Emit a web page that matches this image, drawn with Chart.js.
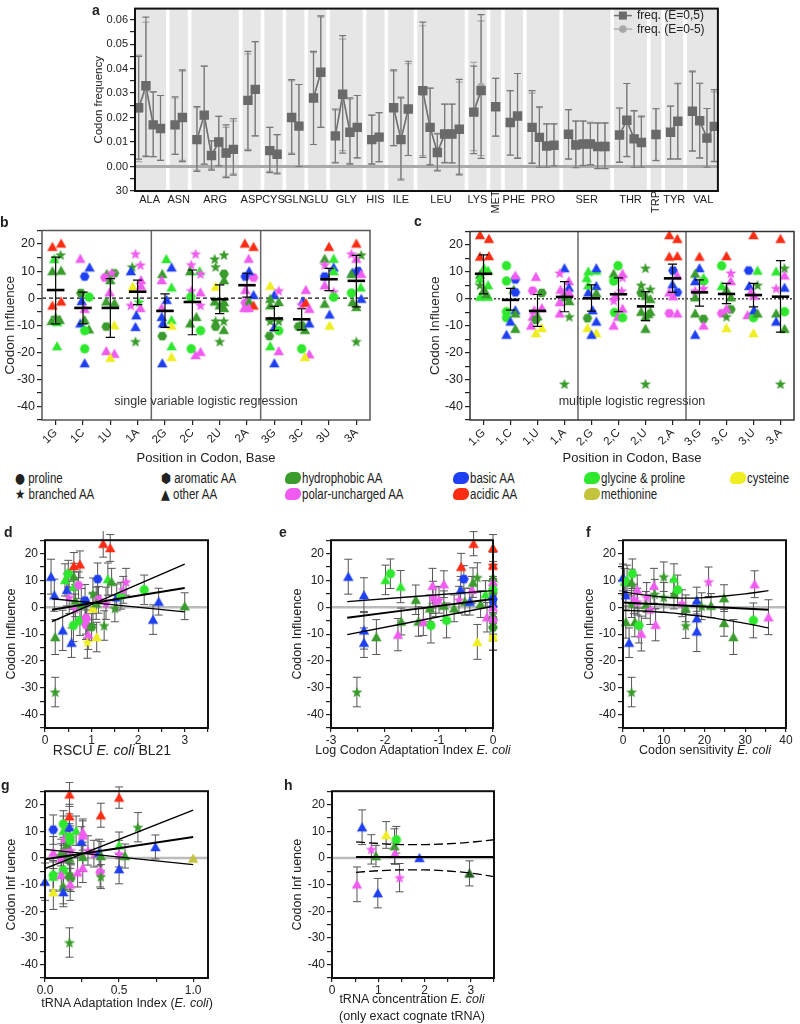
<!DOCTYPE html>
<html>
<head>
<meta charset="utf-8">
<title>Codon influence</title>
<script src="https://cdn.jsdelivr.net/npm/chart.js@4.4.1/dist/chart.umd.min.js"></script>
<style>
  body { margin: 0; background: #fff; }
  #page { position: relative; width: 800px; height: 1024px; overflow: hidden; font-family: 'Liberation Sans', Arial, sans-serif; color: #222; }
  canvas { position: absolute; }
  .t { position: absolute; white-space: nowrap; }
  .panel { font-weight: bold; font-size: 14px; }
  .xt { transform: translate(-50%, -50%); font-size: 12.5px; }
  .leg { font-family: 'Liberation Sans Narrow', 'Liberation Sans', sans-serif; font-size: 14px; transform-origin: left center; transform: translateY(-50%) scaleX(0.82); }
  .sym { font-family: 'DejaVu Sans', sans-serif; font-size: 14px; }
  .blob { position: absolute; width: 16px; height: 12px; border-radius: 7px 5px 6px 4px; transform: translateY(-50%); }
</style>
</head>
<body>
<div id="page">
  <canvas id="cA"></canvas>
  <canvas id="cB"></canvas>
  <canvas id="cC"></canvas>
  <canvas id="cD"></canvas>
  <canvas id="cE"></canvas>
  <canvas id="cF"></canvas>
  <canvas id="cG"></canvas>
  <canvas id="cH"></canvas>

  <div class="t panel" style="left:92px;top:2px">a</div>
  <div class="t panel" style="left:0px;top:214px">b</div>
  <div class="t panel" style="left:414px;top:213px">c</div>
  <div class="t panel" style="left:4px;top:524px">d</div>
  <div class="t panel" style="left:279px;top:524px">e</div>
  <div class="t panel" style="left:586px;top:524px">f</div>
  <div class="t panel" style="left:1px;top:777px">g</div>
  <div class="t panel" style="left:284px;top:777px">h</div>

  <!-- legend row -->
  <div class="t leg" style="left:15px;top:478px"><span class="sym">●</span> proline</div>
  <div class="t leg" style="left:15px;top:494px"><span class="sym">★</span> branched AA</div>
  <div class="t leg" style="left:161px;top:478px"><span class="sym">⬢</span> aromatic AA</div>
  <div class="t leg" style="left:161px;top:494px"><span class="sym">▲</span> other AA</div>
  <div class="blob" style="left:285px;top:478px;background:#3a9c2c"></div>
  <div class="t leg" style="left:302px;top:478px">hydrophobic AA</div>
  <div class="blob" style="left:285px;top:494px;background:#f05cf0"></div>
  <div class="t leg" style="left:302px;top:494px">polar-uncharged AA</div>
  <div class="blob" style="left:453px;top:478px;background:#1e40f2"></div>
  <div class="t leg" style="left:470px;top:478px">basic AA</div>
  <div class="blob" style="left:453px;top:494px;background:#fa2c14"></div>
  <div class="t leg" style="left:470px;top:494px">acidic AA</div>
  <div class="blob" style="left:584px;top:478px;background:#2ee82e"></div>
  <div class="t leg" style="left:601px;top:478px">glycine &amp; proline</div>
  <div class="blob" style="left:584px;top:494px;background:#c4c43c"></div>
  <div class="t leg" style="left:601px;top:494px">methionine</div>
  <div class="blob" style="left:730px;top:478px;background:#eeee22"></div>
  <div class="t leg" style="left:747px;top:478px">cysteine</div>

  <!-- x titles with italics -->
  <div class="t xt" style="left:112px;top:750px;font-size:14px">RSCU <i>E. coli</i> BL21</div>
  <div class="t xt" style="left:413px;top:750px">Log Codon Adaptation Index <i>E. coli</i></div>
  <div class="t xt" style="left:705px;top:750px">Codon sensitivity <i>E. coli</i></div>
  <div class="t xt" style="left:127px;top:1003px">tRNA Adaptation Index (<i>E. coli</i>)</div>
  <div class="t xt" style="left:412px;top:999px">tRNA concentration <i>E. coli</i></div>
  <div class="t xt" style="left:412px;top:1016px">(only exact cognate tRNA)</div>
</div>

<script>
// ---------- panel a: codon frequencies ----------
const aaNames = ['ALA','ASN','ARG','ASP','CYS','GLN','GLU','GLY','HIS','ILE','LEU','LYS','MET','PHE','PRO','SER','THR','TRP','TYR','VAL'];
const aaCounts = [4,2,6,2,2,2,2,4,2,3,6,2,1,2,4,6,4,1,2,4];

const aFreq1 = [0.024,0.033,0.017,0.0155, 0.017,0.020, 0.011,0.021,0.0045,0.010,0.0055,0.007, 0.027,0.0315, 0.0065,0.005,
  0.020,0.0165, 0.028,0.0385, 0.0125,0.0295,0.014,0.016, 0.011,0.012, 0.024,0.011,0.0235, 0.031,0.016,0.0057,0.0133,0.0133,0.0152,
  0.0222,0.031, 0.0244, 0.018,0.0206, 0.016,0.0119,0.0084,0.0087, 0.0132,0.0088,0.0092,0.0092,0.0082,0.0082,
  0.0129,0.0189,0.0113,0.0098, 0.0131, 0.014,0.0185, 0.0226,0.0187,0.0116,0.0164];
const aHi1 = [0.045,0.061,0.0305,0.029, 0.0285,0.0395, 0.0245,0.041,0.0105,0.0205,0.017,0.0195, 0.047,0.051, 0.016,0.013,
  0.0355,0.0335, 0.047,0.0615, 0.0235,0.0535,0.028,0.029, 0.021,0.022, 0.0395,0.028,0.043, 0.059,0.032,0.0133,0.0255,0.0255,0.0356,
  0.041,0.062, 0.036, 0.031,0.038, 0.031,0.0244,0.0174,0.0174, 0.0232,0.0185,0.0185,0.0177,0.0177,0.0177,
  0.0239,0.0339,0.0228,0.0206, 0.0236, 0.0247,0.034, 0.039,0.034,0.0237,0.0314];
const aLo1 = [0.003,0.004,0.004,0.0025, 0.005,0.002, -0.002,0.001,-0.0015,0.0003,-0.0045,-0.0035, 0.0065,0.0125, -0.0025,-0.003,
  0.005,0.0, 0.009,0.016, 0.0015,0.0055,0.001,0.0035, 0.001,0.002, 0.0085,-0.0055,0.0045, 0.0037,0.0007,-0.0018,0.0015,0.0015,-0.0034,
  0.0053,0.0033, 0.0124, 0.0046,0.0033, 0.0013,-0.0003,-0.0003,0.0003, 0.003,-0.0005,0.0004,0.0007,-0.0009,-0.0009,
  0.0017,0.004,-0.0003,-0.0003, 0.0024, 0.003,0.003, 0.0063,0.0034,-0.0003,0.002];

const aFreq2 = [0.0235,0.032,0.0172,0.0155, 0.0168,0.0202, 0.0112,0.0208,0.0046,0.0102,0.0056,0.0072, 0.0268,0.0316, 0.0066,0.0051,
  0.0201,0.0167, 0.0279,0.0384, 0.0126,0.0288,0.0142,0.0162, 0.0109,0.0121, 0.0238,0.0112,0.0233, 0.0303,0.0161,0.0058,0.0134,0.0134,0.0150,
  0.0225,0.0325, 0.0244, 0.0181,0.0205, 0.0161,0.0120,0.0085,0.0088, 0.0133,0.0089,0.0093,0.0093,0.0083,0.0083,
  0.0130,0.0188,0.0114,0.0099, 0.0131, 0.0141,0.0184, 0.0224,0.0186,0.0117,0.0165];
const aHi2 = [0.0455,0.059,0.0305,0.029, 0.028,0.039, 0.024,0.041,0.0105,0.0205,0.016,0.0185, 0.046,0.051, 0.016,0.013,
  0.035,0.0335, 0.0465,0.061, 0.023,0.052,0.0275,0.029, 0.021,0.022, 0.039,0.0285,0.042, 0.0575,0.032,0.0135,0.0255,0.0255,0.0345,
  0.0425,0.0595, 0.036, 0.031,0.038, 0.030,0.024,0.0174,0.0174, 0.0232,0.0187,0.0187,0.0181,0.0179,0.0179,
  0.0239,0.0339,0.0226,0.0202, 0.0236, 0.0247,0.0337, 0.0385,0.034,0.0237,0.0305];
const aLo2 = [0.002,0.0045,0.004,0.0025, 0.005,0.0025, -0.0015,0.0008,-0.001,0.0005,-0.004,-0.003, 0.007,0.0125, -0.002,-0.0025,
  0.0055,0.0003, 0.009,0.016, 0.0017,0.0065,0.0013,0.0035, 0.0012,0.002, 0.0085,-0.005,0.0045, 0.0045,0.0008,-0.0015,0.0017,0.0015,-0.003,
  0.0065,0.0045, 0.0124, 0.0048,0.0035, 0.0015,0,0,0.0003, 0.0032,-0.0003,0.0005,0.0008,-0.0007,-0.0007,
  0.0019,0.0042,0,0, 0.0025, 0.0032,0.0032, 0.0065,0.0036,0,0.0022];
const aYTicks = [-0.01,-0.005,0,0.005,0.01,0.015,0.02,0.025,0.03,0.035,0.04,0.045,0.05,0.055,0.06];

// ---------- panels b, c: codon influence by position ----------
const bCats = ['1G','1C','1U','1A','2G','2C','2U','2A','3G','3C','3U','3A'];
const cCats = ['1,G','1,C','1,U','1,A','2,G','2,C','2,U','2,A','3,G','3,C','3,U','3,A'];
const bcYTicks = [-45,-40,-35,-30,-25,-20,-15,-10,-5,0,5,10,15,20,25];

// [jitter, value, colour group, shape]
const b1G = [[-0.12,19,'ac','^'],[0.2,20.2,'ac','^'],[-0.05,14.5,'gp','^'],[0.18,16,'hy','*'],[-0.12,10,'hy','^'],[0.2,10.2,'hy','^'],[0.2,-1.2,'ac','^'],[-0.12,-2.7,'ac','^'],[-0.15,-8.4,'hy','^'],[0.05,-8.8,'gp','^'],[0.15,-8,'hy','^'],[0.05,-17.7,'gp','^'],[0,-7,'hy','*']];
const b1C = [[-0.1,14.6,'pu','^'],[0.24,11.4,'ba','^'],[0.06,8,'ba','h'],[-0.08,1.9,'hy','h'],[0.22,0.4,'gp','o'],[-0.05,-1,'ba','^'],[0.06,-3.9,'pu','^'],[-0.1,-9.3,'ba','^'],[0.06,-8,'hy','^'],[0.22,-11.5,'hy','^'],[0.06,-12,'gp','o'],[0.06,-18.7,'gp','o'],[0.06,-24,'ba','^']];
const b1U = [[-0.13,9,'hy','^'],[0.15,9.2,'hy','h'],[-0.2,7.6,'pu','h'],[0.05,9.4,'pu','*'],[0,6.7,'hy','^'],[-0.03,2.2,'pu','^'],[-0.15,-1.2,'hy','^'],[0.15,-1.7,'hy','^'],[-0.15,-10.5,'hy','h'],[0.15,-10,'cy','^'],[-0.15,-19.5,'pu','^'],[0.15,-20.5,'pu','^'],[0,-22,'cy','^']];
const b1A = [[-0.08,16.4,'pu','*'],[0.1,12.3,'pu','*'],[-0.2,11.6,'hy','*'],[-0.25,10,'ba','^'],[-0.18,4.3,'cy','^'],[0.12,6.7,'pu','^'],[0.12,4.6,'pu','^'],[0.05,-1.4,'gp','*'],[-0.25,-2.6,'pu','*'],[0.1,-3.6,'pu','^'],[-0.05,-6.3,'ba','^'],[-0.08,-10.6,'ba','^'],[-0.08,-16,'hy','*']];
const b2G = [[0.05,14.5,'gp','^'],[0.24,11.4,'ba','^'],[-0.1,9,'hy','^'],[-0.12,6.7,'pu','^'],[0.24,4,'gp','^'],[0.06,-0.6,'ba','^'],[-0.12,-3.6,'pu','^'],[-0.12,-6.9,'ba','^'],[-0.08,-9.3,'ba','^'],[0.24,-8,'gp','^'],[0.24,-10.1,'cy','^'],[-0.1,-14,'hy','h'],[0.24,-17.7,'gp','^'],[0.24,-21.7,'cy','^'],[-0.1,-24,'ba','^']];
const b2C = [[0.12,16.4,'pu','*'],[-0.04,12.4,'pu','*'],[-0.08,10,'hy','^'],[0.27,10,'gp','^'],[0.3,9,'pu','*'],[-0.04,2.8,'pu','*'],[0.3,2.2,'pu','^'],[-0.06,0.4,'gp','o'],[0.3,-2.6,'pu','*'],[0.15,-6.9,'hy','^'],[-0.08,-9.3,'hy','^'],[0.3,-12,'gp','o'],[-0.04,-18.7,'gp','o'],[0.12,-21,'pu','^'],[0.3,-19.8,'pu','^']];
const b2U = [[-0.18,14.5,'hy','*'],[0.16,16,'hy','*'],[-0.15,11.6,'hy','*'],[0.16,9,'hy','h'],[0.16,6.7,'hy','^'],[-0.15,4.3,'cy','^'],[-0.18,-1.2,'hy','^'],[0.16,-1.4,'hy','^'],[0,-2.6,'hy','^'],[0.16,-3.6,'hy','^'],[-0.15,-8.4,'hy','*'],[0.15,-8.4,'hy','*'],[-0.15,-10.5,'hy','h'],[0.15,-11.7,'hy','^'],[0,-16,'hy','*']];
const b2A = [[-0.08,20.2,'ac','^'],[0.24,19,'ac','^'],[0.06,14.6,'pu','^'],[-0.06,8,'ba','h'],[0.24,7.6,'pu','h'],[0.08,10,'ba','^'],[-0.06,3.1,'pu','^'],[0.24,1.2,'ba','^'],[-0.06,-1.7,'pu','h'],[0.08,-1.2,'hy','^'],[0.24,-2.7,'ac','^'],[0.06,-3.6,'pu','^'],[-0.1,-3.6,'pu','^']];
const b3G = [[-0.15,4.6,'cy','^'],[0,1.2,'ba','^'],[0.16,2.8,'pu','*'],[-0.15,-0.2,'hy','^'],[-0.15,-2.6,'hy','^'],[0.16,-1.4,'hy','^'],[0.16,-8.4,'hy','*'],[-0.15,-8.4,'hy','*'],[0,-10.8,'ba','^'],[0.16,-12,'gp','o'],[-0.18,-14,'hy','h'],[-0.15,-17.7,'gp','^'],[0.16,-19.5,'pu','^'],[0,-24,'ba','^']];
const b3C = [[0.15,3.1,'pu','^'],[0.04,-1.1,'ba','^'],[0,-2.4,'pu','*'],[0.15,-1.7,'ac','^'],[0.28,-3.9,'pu','^'],[0,-10.1,'hy','h'],[-0.12,-10.5,'hy','h'],[0.12,-11.7,'hy','^'],[0.28,-9.3,'ba','^'],[0,-18.7,'gp','o'],[0.28,-20.7,'pu','^'],[0.12,-21.7,'cy','^']];
const b3U = [[0,19,'ac','^'],[-0.16,14.6,'hy','^'],[0.17,14.6,'gp','^'],[-0.16,12.4,'pu','*'],[0.17,11.4,'ba','^'],[0.17,10,'gp','^'],[-0.16,8,'ba','h'],[-0.16,4.8,'pu','^'],[0.17,2.4,'pu','*'],[0.17,0.4,'gp','o'],[-0.16,-2,'hy','^'],[0.02,-6,'ba','^'],[0.02,-10.1,'cy','^']];
const b3A = [[0,20.2,'ac','^'],[-0.18,16.4,'pu','*'],[0.18,16,'hy','*'],[0,14.6,'pu','^'],[0.06,10,'ba','h'],[-0.14,9.5,'ba','^'],[-0.18,9,'hy','^'],[0.18,9,'pu','^'],[-0.18,1.9,'gp','o'],[0.16,4,'gp','^'],[0.18,-0.2,'ba','^'],[-0.14,-1.4,'hy','^'],[0,-3.2,'hy','^'],[0,-16,'hy','*']];
const bMean = [3.0,-3.6,-3.6,2.4,-4.7,-1.4,-0.4,4.8,-7.5,-7.8,7.0,6.4];
const bHi = [15.2,2.2,7.2,6.7,1.6,10.4,4.9,9.2,-3,-3.9,11,15.8];
const bLo = [-9.5,-9.5,-14.5,-2.4,-10.8,-13.5,-5.7,0.4,-11.9,-11.7,2.8,-3.2];

const c1G = [[-0.13,23.7,'ac','^'],[0.2,22.3,'ac','^'],[-0.13,15.7,'ac','^'],[0.2,15.9,'ac','^'],[0.02,11.4,'gp','^'],[-0.13,9,'hy','^'],[0.17,10.5,'gp','^'],[-0.13,7.5,'gp','^'],[-0.13,5.1,'hy','*'],[0.17,5.1,'gp','^'],[0.02,3.4,'hy','^'],[-0.13,0.8,'gp','^'],[0.17,0.8,'gp','^'],[0.1,1.8,'hy','^']];
const c1C = [[-0.15,12.3,'gp','o'],[0.18,7.2,'ba','h'],[0.18,8.7,'pu','^'],[-0.15,6.6,'gp','o'],[0.12,3.4,'hy','^'],[0.18,2.4,'ba','h'],[-0.15,-4.8,'gp','o'],[0.18,-4.2,'ba','^'],[-0.15,-7,'gp','o'],[0.18,-5.4,'hy','^'],[0,-8.4,'ba','^'],[0.18,-11.1,'hy','^'],[-0.15,-13.3,'ba','^']];
const c1U = [[-0.06,8.2,'pu','^'],[-0.18,3,'pu','h'],[0.16,2.2,'hy','h'],[-0.12,-4.2,'pu','^'],[0.16,-3.4,'pu','^'],[0,-6.4,'hy','^'],[-0.18,-6.6,'pu','^'],[-0.06,-7.8,'hy','h'],[-0.24,-9.9,'pu','^'],[0.16,-10.8,'cy','^'],[-0.06,-12.7,'cy','^']];
const c1A = [[0,11.4,'ba','^'],[-0.18,9.6,'pu','*'],[0.16,6.6,'pu','^'],[0.16,4.2,'ba','^'],[-0.15,3.4,'pu','^'],[0,2.4,'pu','^'],[0.18,2.2,'pu','^'],[0,0.6,'hy','^'],[-0.18,-1.2,'pu','^'],[0.18,-0.8,'hy','^'],[0.18,-6.6,'hy','*'],[-0.18,-5.4,'pu','^'],[0,-31.6,'hy','*']];
const c2G = [[-0.12,10.2,'gp','^'],[0.18,10.5,'gp','^'],[0.18,11.4,'ba','^'],[-0.18,7.8,'gp','^'],[-0.12,2.4,'ba','^'],[0.18,4.8,'ba','^'],[-0.12,5.1,'gp','^'],[0.18,2.2,'hy','^'],[0.04,-4.2,'ba','^'],[-0.15,-7.2,'hy','h'],[0.18,-8.4,'ba','^'],[-0.15,-10.8,'cy','^'],[0.18,-12.7,'cy','^'],[0,-13.3,'ba','^']];
const c2C = [[-0.02,12.3,'gp','o'],[-0.18,9.4,'hy','^'],[0.15,9.4,'pu','^'],[0.15,8,'pu','*'],[-0.18,6.6,'gp','o'],[0.12,3,'pu','*'],[-0.12,1.2,'pu','^'],[-0.18,-0.6,'pu','*'],[0.15,-3.6,'pu','^'],[-0.15,-5.1,'gp','o'],[-0.02,-6.6,'pu','^'],[0.15,-7,'gp','o'],[-0.18,-9.9,'pu','^']];
const c2U = [[0,11.4,'hy','*'],[-0.16,5.1,'hy','*'],[0.18,3.6,'hy','*'],[-0.16,2.2,'hy','h'],[0,1.2,'hy','^'],[0.18,0,'hy','^'],[-0.16,-4.8,'hy','^'],[0.18,-4.8,'hy','^'],[0,-6.6,'hy','^'],[0.1,-5.6,'hy','^'],[0,-11.1,'hy','^'],[0,-31.6,'hy','*']];
const c2A = [[-0.12,23.7,'ac','^'],[0.18,22.3,'ac','^'],[-0.12,15.7,'ac','^'],[0.18,15.9,'ac','^'],[0.02,10.5,'ba','h'],[0.18,8.7,'pu','^'],[0,5.4,'ba','^'],[0.18,2.4,'ba','h'],[-0.12,2.4,'pu','^'],[0.02,1,'pu','^'],[-0.12,-5.4,'pu','h'],[0.18,-5.4,'pu','^']];
const c3G = [[0,15.7,'ac','^'],[0,11.4,'ba','^'],[-0.16,9.4,'hy','^'],[0.15,7.8,'gp','^'],[-0.16,6.6,'ba','^'],[0.15,6.6,'gp','o'],[-0.16,3,'pu','*'],[0.15,3.9,'pu','*'],[-0.16,0.6,'hy','^'],[-0.16,-5.4,'hy','^'],[0.15,-7.5,'hy','h'],[0.15,-9.9,'pu','^'],[-0.16,-13.3,'ba','^']];
const c3C = [[0,15.9,'ac','^'],[-0.18,12.3,'gp','o'],[-0.18,4.8,'gp','^'],[0.16,9.6,'pu','*'],[0,3.4,'hy','^'],[0.16,6.6,'pu','^'],[0.16,0.6,'hy','^'],[-0.18,-5.4,'pu','h'],[0,-6.6,'hy','*'],[0.16,-3.9,'hy','h'],[0,-3.6,'pu','^'],[0,-10.8,'cy','^']];
const c3U = [[0,23.7,'ac','^'],[-0.18,10.5,'ba','h'],[0.15,10.5,'gp','^'],[-0.16,4.8,'ba','^'],[0.15,5.1,'hy','*'],[-0.1,2.4,'pu','^'],[0.02,1.2,'pu','^'],[-0.22,-6,'pu','^'],[0,-7,'gp','o'],[0.02,-4.2,'ba','^'],[0.15,-5.4,'hy','^'],[0,-12.7,'cy','^']];
const c3A = [[0,22.3,'ac','^'],[0.15,11.4,'hy','*'],[-0.16,10.2,'gp','^'],[0.15,8.7,'pu','^'],[-0.16,3.9,'pu','*'],[0.15,4.2,'ba','^'],[-0.16,-5.4,'hy','^'],[0.15,-4.8,'gp','o'],[-0.16,-8.4,'ba','^'],[0.15,-11.1,'hy','^'],[0,-31.6,'hy','*']];
const cMean = [9.3,-0.4,-4.5,0.7,0.2,1.7,-2.8,7.6,2.4,1.8,1.4,0.8];
const cHi = [16.3,3.9,1.6,6.4,5.2,7.8,2.7,12.9,7,5.7,5.7,14.2];
const cLo = [1.8,-4.2,-10.2,-4.8,-4.6,-4.8,-8.1,2.4,-2.7,-1.8,-3,-12.4];

// ---------- panels d-h: influence vs codon usage measures ----------
// [x, influence, error, colour group, shape]
const dPts = [[0.13,11.4,6.5,'ba','^'],[0.2,4.5,6,'ba','^'],[0.22,-11.1,6.5,'hy','^'],[0.22,-31.6,5.5,'hy','*'],[0.38,-8.6,7.5,'ba','^'],
  [0.43,10.2,6,'gp','^'],[0.5,12.5,5,'gp','o'],[0.47,6.5,6,'ba','^'],[0.52,3.7,6,'pu','*'],[0.57,-13.2,5.5,'ba','^'],
  [0.62,15.4,5,'ac','^'],[0.75,16,5,'ac','^'],[0.62,7.7,5.5,'gp','^'],[0.62,11.4,5,'hy','^'],[0.61,-6.8,6,'gp','o'],
  [0.65,2.5,6,'hy','^'],[0.65,-0.6,5.5,'pu','*'],[0.72,8.2,5,'pu','h'],[0.75,-5,5.5,'gp','o'],[0.78,1,6,'hy','^'],
  [0.86,2.5,6,'ba','h'],[0.88,-4,6,'pu','h'],[0.88,-6.5,5.5,'pu','h'],[0.9,-5.5,6,'pu','^'],[0.93,-10.2,5.5,'pu','^'],
  [0.91,-13,6,'cy','*'],[1.0,-7.4,5,'hy','h'],[1.03,-0.4,6,'cy','^'],[1.03,4.9,6,'hy','*'],[1.11,-11.1,5.5,'cy','^'],
  [1.13,10.5,6,'ba','h'],[1.15,2.8,5,'pu','h'],[1.1,1.5,6,'hy','^'],[1.25,23.7,5,'ac','^'],[1.4,22.1,5,'ac','^'],
  [1.27,-6.8,5.5,'hy','*'],[1.31,1.5,6,'pu','*'],[1.35,10.5,6,'gp','^'],[1.43,9.5,5,'hy','^'],[1.5,-0.4,5,'hy','*'],
  [1.54,3.7,5,'ba','^'],[1.63,4.3,5,'gp','o'],[1.68,6.5,5,'pu','*'],[1.74,9.5,5,'pu','*'],[2.13,6.5,5.5,'gp','o'],
  [2.32,-4.6,5.5,'ba','^'],[2.44,2.1,5,'ba','^'],[3.0,0.4,5,'hy','^']];
const dLineX = [0.15, 3.0];
const dFit = [-0.9, 7.2];
const dBandA = [-5.3, 16.1];
const dBandB = [3.2, -1.7];

const ePts = [[-2.68,11.4,6.5,'ba','^'],[-2.39,4.5,6.5,'ba','^'],[-2.39,-8.6,7,'ba','^'],[-2.39,-13.2,5.5,'ba','^'],[-2.52,-31.6,5.5,'hy','*'],
  [-2.16,-11.1,6.5,'hy','^'],[-1.99,10.2,5.5,'gp','^'],[-1.9,12.5,5.5,'gp','o'],[-1.71,7.7,6,'gp','^'],[-1.7,-5.3,5,'hy','^'],
  [-1.76,-10.2,6,'pu','^'],[-1.43,2.8,5.5,'hy','^'],[-1.38,-5.3,5.5,'hy','^'],[-1.29,-5.5,5,'pu','^'],[-1.17,-0.4,5,'hy','^'],
  [-1.15,-6.8,6.5,'gp','o'],[-1.12,8,6.5,'pu','^'],[-1.11,3.7,6,'pu','*'],[-1.06,2.1,5.5,'pu','*'],[-1.0,2.8,5,'pu','*'],
  [-0.91,8.6,5,'pu','^'],[-0.91,0.6,5.5,'hy','^'],[-0.86,-4.9,6.5,'gp','o'],[-0.72,-0.4,5,'hy','^'],[-0.63,2.8,5,'pu','*'],
  [-0.6,6.5,5,'ba','^'],[-0.59,15.1,5,'ac','^'],[-0.54,10.5,5,'ba','h'],[-0.52,2.1,5,'hy','^'],[-0.43,2.1,5,'ba','^'],
  [-0.39,6.5,5,'pu','^'],[-0.37,9.2,5.5,'hy','^'],[-0.36,23.7,4.5,'ac','^'],[-0.29,11.1,5.5,'hy','*'],[-0.29,-12.9,6.5,'cy','^'],
  [-0.23,1.2,5,'hy','^'],[-0.14,4.9,5,'gp','^'],[-0.11,-3.7,5.5,'pu','^'],[0,22.1,5,'ac','^'],[0,15.6,5,'ac','^'],
  [0,15.6,5,'ac','*'],[0,11,5,'hy','^'],[0,9.5,5,'pu','^'],[0,6.5,5,'gp','o'],[0,5,5,'hy','*'],[0,3,5,'ba','h'],
  [0,1.5,5,'ba','^'],[0,0,5,'pu','^'],[0,-3,5,'hy','^'],[0,-5,5,'pu','h'],[0,-7.5,5,'hy','h'],[0,-11,5,'cy','*'],[0,-11,5,'cy','^']];
const eLineX = [-2.7, 0];
const eFit = [-3.9, 3.1];
const eBandA = [2.1, 6.2];
const eBandB = [-10.2, 0.4];

const fPts = [[0,11.1,5,'ba','^'],[0.4,9.5,5,'gp','^'],[0.7,4.5,5.5,'ba','^'],[0.7,-5.5,6,'hy','^'],[1,10.2,5.5,'gp','^'],
  [2.3,12.5,5.5,'gp','o'],[2.1,9.2,5,'hy','^'],[2.1,1.2,5,'hy','*'],[1.5,-13.2,5.5,'ba','^'],[2.1,-31.6,5.5,'hy','*'],
  [2.7,3.1,5.5,'pu','*'],[2.9,-5.5,5.5,'hy','^'],[3.5,6.5,5.5,'pu','^'],[3.5,2.1,5,'pu','*'],[3.9,-6.8,6.5,'gp','o'],
  [4.5,-9.8,6.5,'pu','^'],[5.8,3.7,5.5,'pu','*'],[5.6,0.9,5,'hy','^'],[6.7,-0.9,5.5,'pu','*'],[7.6,8,6.5,'pu','^'],
  [7.8,4.9,5.5,'hy','*'],[8,-6.5,6,'pu','^'],[10,11.4,5.5,'hy','*'],[10,3.7,5.5,'hy','*'],[12.5,10.7,5.5,'gp','^'],
  [12.5,4.9,5.5,'hy','^'],[13.4,6.5,5.5,'gp','o'],[14.5,1.5,5,'pu','*'],[15.4,-6.8,4.8,'hy','*'],[15.4,-0.4,5,'hy','^'],
  [18.1,2.5,5,'ba','^'],[18.1,-4.1,6,'ba','^'],[18.1,-9,7.5,'ba','^'],[19.3,0.4,5,'hy','*'],[21,9.5,5.5,'pu','*'],
  [21.6,0.6,4.5,'hy','^'],[24.8,3.4,5,'hy','^'],[24.8,-5.8,5,'hy','^'],[27.1,-11.1,6.5,'hy','^'],[32.3,8.6,5,'pu','^'],
  [32,-4.9,6.5,'gp','o'],[35.7,-3.7,6.5,'pu','^']];
const fLineX = [0, 35.7];
const fFit = [1.8, -0.9];
const fBandX = [0, 5, 10, 15, 20, 25, 30, 35.7];
const fBandA = [5.8, 4.6, 3.8, 3.4, 3.6, 4.2, 5.0, 6.2];
const fBandB = [-1.2, -1.4, -1.9, -2.6, -3.5, -4.7, -6.0, -7.7];

const gPts = [[0.0,-8.9,7,'ba','^'],[0.056,10.6,5.5,'ba','h'],[0.056,2,6,'pu','^'],[0.056,-6.5,5.5,'gp','o'],[0.056,-7,5.5,'gp','^'],
  [0.056,-12.8,6.5,'cy','^'],[0.11,-0.2,5.5,'pu','^'],[0.11,2,5,'hy','^'],[0.124,12.7,5,'gp','o'],[0.124,10.2,5.5,'gp','^'],
  [0.124,-4.6,6,'gp','o'],[0.11,-6.4,6,'pu','^'],[0.124,-10.7,6.5,'hy','^'],[0.124,-12.8,5.5,'ba','^'],[0.135,7.4,5.5,'pu','^'],
  [0.135,3.7,5.5,'pu','^'],[0.147,4.9,5,'hy','^'],[0.165,23.8,4.5,'ac','^'],[0.165,15.6,4.5,'ac','^'],[0.165,11.5,5,'ba','^'],
  [0.165,7.8,5,'gp','o'],[0.17,6.5,5.5,'gp','o'],[0.165,-0.2,5.5,'hy','^'],[0.165,-7,5,'hy','h'],[0.174,-7.6,5,'hy','h'],
  [0.17,-9.9,6,'pu','^'],[0.165,-31.7,5.5,'hy','*'],[0.174,2.8,5,'pu','*'],[0.21,10.2,5.5,'gp','^'],[0.22,-5.4,5.5,'pu','^'],
  [0.255,0.4,5.5,'hy','^'],[0.245,6.2,5.5,'ba','^'],[0.255,8.4,5.5,'pu','^'],[0.255,9.6,5,'pu','^'],[0.255,-3.7,5.5,'pu','^'],
  [0.29,2.8,5.5,'pu','*'],[0.33,1.6,5,'pu','*'],[0.365,2,5,'ba','^'],[0.377,0.7,5.5,'hy','^'],[0.372,-5.4,5.5,'pu','h'],
  [0.377,-7,4.5,'hy','*'],[0.377,16,4.5,'ac','^'],[0.5,1.6,5,'pu','*'],[0.5,4.7,5,'gp','^'],[0.5,-4.2,5.5,'ba','^'],
  [0.5,22.6,4,'ac','^'],[0.54,0.7,4.5,'hy','^'],[0.627,11.5,5.5,'hy','*'],[0.745,4.1,4.5,'ba','^'],[1.0,-0.2,0,'me','^']];
const gLineX = [0, 1.0];
const gFit = [-0.5, 7.8];
const gBandA = [-4, 17.9];
const gBandB = [3.2, -2.5];

const hPts = [[0.65,11.5,6.5,'ba','^'],[0.54,-9.9,6.5,'pu','^'],[0.85,3.2,5.5,'pu','*'],[0.95,0.7,4,'hy','^'],[0.99,-13.2,5.5,'ba','^'],
  [1.17,8.6,5,'cy','^'],[1.35,4.4,6.5,'hy','^'],[1.39,6.8,5,'gp','o'],[1.36,1.6,4,'pu','^'],[1.46,-7.4,5.3,'pu','*'],
  [1.89,0,0,'ba','^'],[2.97,-5.8,4.7,'dk','^']];
const hLineX = [0.52, 3.5];
const hFit = [0.3, 0.3];
const hBandX = [0.52, 1, 1.5, 2, 2.5, 3, 3.5];
const hBandA = [6, 5.4, 5, 5, 5.3, 5.9, 6.8];
const hBandB = [-5.4, -4.8, -4.5, -4.5, -4.9, -5.7, -7];

// ---------- drawing ----------
Chart.defaults.font.family = "'Liberation Sans', Arial, sans-serif";
Chart.defaults.color = '#222';
Chart.defaults.animation = false;
Chart.defaults.events = [];
Chart.defaults.plugins.legend.display = false;
Chart.defaults.plugins.tooltip.enabled = false;

const COL = { hy: '#3a9c2c', gp: '#2ee82e', pu: '#f05cf0', ba: '#1e40f2', ac: '#fa2c14', me: '#c4c43c', cy: '#eeee22', dk: '#1f5a1f' };

const markCache = {};
function markImg(c, s) {
  const key = c + s;
  if (markCache[key]) return markCache[key];
  const n = 12, m = n / 2;
  const cv = document.createElement('canvas');
  cv.width = n; cv.height = n;
  const g = cv.getContext('2d');
  g.fillStyle = COL[c];
  g.beginPath();
  if (s === 'o') {
    g.arc(m, m, 4.7, 0, Math.PI * 2);
  } else if (s === '^') {
    g.moveTo(m, 1); g.lineTo(n - 0.8, n - 1.8); g.lineTo(0.8, n - 1.8);
  } else if (s === 'h') {
    for (let i = 0; i < 6; i++) { const a = Math.PI / 3 * i; g.lineTo(m + 4.9 * Math.cos(a), m + 4.9 * Math.sin(a)); }
  } else {
    for (let i = 0; i < 10; i++) { const r = i % 2 ? 2.4 : 5.8; const a = -Math.PI / 2 + Math.PI / 5 * i; g.lineTo(m + r * Math.cos(a), m + r * Math.sin(a) + 0.5); }
  }
  g.closePath();
  g.fill();
  markCache[key] = cv;
  return cv;
}

function place(id, area, wy, hx, pad) {
  const p = Object.assign({ top: 6, right: 8, bottom: 2, left: 0 }, pad || {});
  const cv = document.getElementById(id);
  const L = area[0] - wy - p.left, T = area[1] - p.top;
  cv.width = area[2] + p.right - L;
  cv.height = area[3] + hx + p.bottom - T;
  cv.style.left = L + 'px';
  cv.style.top = T + 'px';
  return { cv, padding: p };
}

function axis(o) {
  return {
    type: 'linear', display: o.display !== false, min: o.min, max: o.max,
    afterBuildTicks: s => { s.ticks = o.ticks.map(v => ({ value: v })); },
    afterFit: s => { if (s.isHorizontal()) s.height = o.fit; else s.width = o.fit; },
    ticks: { autoSkip: false, callback: o.label, font: { size: o.font || 12 }, padding: o.pad != null ? o.pad : 2, color: '#222',
             maxRotation: o.rot || 0, minRotation: o.rot || 0 },
    grid: { drawOnChartArea: false, drawTicks: true, tickLength: o.tl || 5, color: '#222', lineWidth: 1.2 },
    border: { display: false },
    title: o.title ? { display: true, text: o.title, font: { size: o.tsize || 13 }, color: '#222', padding: { top: 2, bottom: 2 } } : { display: false }
  };
}

function deco(cfg) {
  return {
    id: 'deco',
    beforeDatasetsDraw(chart) {
      const g = chart.ctx, a = chart.chartArea, sx = chart.scales.x, sy = chart.scales.y;
      g.save();
      if (cfg.bands) {
        g.fillStyle = '#e6e6e6';
        cfg.bands.forEach(([v0, v1]) => {
          const x0 = Math.max(a.left, sx.getPixelForValue(v0));
          const x1 = Math.min(a.right, sx.getPixelForValue(v1));
          g.fillRect(x0, a.top, x1 - x0, a.bottom - a.top);
        });
      }
      if (cfg.zero) {
        const y = sy.getPixelForValue(0);
        g.strokeStyle = cfg.zero.color; g.lineWidth = cfg.zero.width; g.setLineDash(cfg.zero.dash || []);
        g.beginPath(); g.moveTo(a.left, y); g.lineTo(a.right, y); g.stroke();
        g.setLineDash([]);
      }
      (cfg.vlines || []).forEach(v => {
        const x = sx.getPixelForValue(v);
        g.strokeStyle = '#666'; g.lineWidth = 1.5;
        g.beginPath(); g.moveTo(x, a.top); g.lineTo(x, a.bottom); g.stroke();
      });
      (cfg.errs || []).forEach(set => {
        g.strokeStyle = set.color; g.lineWidth = set.width;
        set.items.forEach(([x, lo, hi]) => {
          if (lo === hi) return;
          const px = sx.getPixelForValue(x), y0 = sy.getPixelForValue(lo), y1 = sy.getPixelForValue(hi);
          g.beginPath();
          g.moveTo(px, y0); g.lineTo(px, y1);
          g.moveTo(px - set.cap, y0); g.lineTo(px + set.cap, y0);
          g.moveTo(px - set.cap, y1); g.lineTo(px + set.cap, y1);
          g.stroke();
        });
      });
      g.restore();
    },
    afterDatasetsDraw(chart) {
      if (!cfg.means) return;
      const g = chart.ctx, sx = chart.scales.x, sy = chart.scales.y, M = cfg.means;
      g.save();
      g.strokeStyle = '#000';
      M.m.forEach((m, i) => {
        const lo = sy.getPixelForValue(M.lo[i]), hi = sy.getPixelForValue(M.hi[i]);
        const xc = sx.getPixelForValue(i), cw = sx.getPixelForValue(i + 0.17) - xc;
        g.lineWidth = 1.2;
        g.beginPath();
        g.moveTo(xc, lo); g.lineTo(xc, hi);
        g.moveTo(xc - cw, lo); g.lineTo(xc + cw, lo);
        g.moveTo(xc - cw, hi); g.lineTo(xc + cw, hi);
        g.stroke();
        g.lineWidth = 2.6;
        g.beginPath();
        g.moveTo(sx.getPixelForValue(i - 0.32), sy.getPixelForValue(m));
        g.lineTo(sx.getPixelForValue(i + 0.32), sy.getPixelForValue(m));
        g.stroke();
      });
      g.restore();
    },
    afterDraw(chart) {
      const g = chart.ctx, a = chart.chartArea, sx = chart.scales.x, sy = chart.scales.y;
      g.save();
      if (cfg.frame) {
        g.strokeStyle = cfg.frame.color; g.lineWidth = cfg.frame.width;
        g.strokeRect(a.left, a.top, a.right - a.left, a.bottom - a.top);
      }
      (cfg.texts || []).forEach(t => {
        g.font = t.font; g.fillStyle = t.color || '#222';
        g.textAlign = 'center'; g.textBaseline = 'middle';
        g.fillText(t.text, sx.getPixelForValue(t.x), sy.getPixelForValue(t.y));
      });
      if (cfg.after) cfg.after(chart, g, a, sx, sy);
      g.restore();
    }
  };
}

function marks(pts) {
  return {
    type: 'scatter', data: pts, order: 2, clip: false, pointRadius: 5,
    pointStyle: ctx => (ctx.raw ? markImg(ctx.raw.c, ctx.raw.s) : 'circle')
  };
}
function line(xs, ys, width, dash) {
  return {
    type: 'line', data: xs.map((x, i) => ({ x, y: ys[i] })), order: 0,
    borderColor: '#000', borderWidth: width, borderDash: dash || [], pointRadius: 0,
    cubicInterpolationMode: 'monotone', fill: false
  };
}
const yLab10 = v => (v % 10 === 0 ? String(v) : '');

// --- panel a ---
(function () {
  const { cv, padding } = place('cA', [135, 3, 719, 191], 45, 0, { top: 3, right: 6, bottom: 25 });
  const slots = [], spans = [];
  let s = 0;
  aaCounts.forEach(n => { spans.push([s, s + n - 1]); for (let k = 0; k < n; k++) slots.push(s++); s++; });
  const series = (vals) => {
    const out = []; let k = 0;
    spans.forEach(([f, l]) => { for (let x = f; x <= l; x++) out.push({ x, y: vals[k++] }); out.push({ x: l + 1, y: null }); });
    return out;
  };
  const bands = spans.map(([f, l], i) => [f - (i ? 0.75 : 0.5), l + (i < spans.length - 1 ? 0.75 : 0.5)]);
  new Chart(cv, {
    type: 'scatter',
    data: { datasets: [
      { data: series(aFreq1), showLine: true, spanGaps: false, order: 0, borderColor: '#707070', borderWidth: 1.5,
        pointStyle: 'rect', pointRadius: 5.6, backgroundColor: '#6a6a6a', pointBorderColor: '#6a6a6a', clip: false },
      { data: series(aFreq2), showLine: true, spanGaps: false, order: 1, borderColor: '#b0b0b0', borderWidth: 1.5,
        pointStyle: 'circle', pointRadius: 3.5, backgroundColor: '#a8a8a8', pointBorderColor: '#a8a8a8', clip: false }
    ] },
    options: {
      responsive: false, layout: { padding },
      scales: {
        x: { type: 'linear', display: false, min: -0.5, max: 79.5 },
        y: axis({ min: -0.01, max: 0.0645, ticks: aYTicks, fit: 45, font: 11, tsize: 11.5, title: 'Codon frequency',
                  label: v => (v < -0.005 ? '30' : (Math.round(v * 1000) % 10 === 0 ? v.toFixed(2) : '')) })
      }
    },
    plugins: [deco({
      bands,
      zero: { color: '#aaa', width: 3 },
      errs: [
        { color: '#aaa', width: 1.2, cap: 3.5, items: slots.map((x, i) => [x, aLo2[i], aHi2[i]]) },
        { color: '#777', width: 1.2, cap: 3.5, items: slots.map((x, i) => [x, aLo1[i], aHi1[i]]) }
      ],
      frame: { color: '#111', width: 2 },
      after: (chart, g, a, sx) => {
        g.font = "11px 'Liberation Sans', Arial, sans-serif"; g.fillStyle = '#222'; g.textBaseline = 'middle';
        spans.forEach(([f, l], i) => {
          const x = sx.getPixelForValue((f + l) / 2);
          g.save();
          if (aaCounts[i] === 1) { g.translate(x, a.bottom + 11); g.rotate(-Math.PI / 2); g.textAlign = 'center'; }
          else { g.translate(x, a.bottom + 9); g.textAlign = 'center'; }
          g.fillText(aaNames[i], 0, 0);
          g.restore();
        });
        // legend
        const rows = [['freq. (E=0,5)', '#6a6a6a', '#707070', 'rect'], ['freq. (E=0-5)', '#a8a8a8', '#b0b0b0', 'circle']];
        rows.forEach(([txt, fc, lc, sh], r) => {
          const y = a.top + 7 + r * 13.5, x0 = a.right - 104;
          g.strokeStyle = lc; g.lineWidth = 1.5;
          g.beginPath(); g.moveTo(x0, y); g.lineTo(x0 + 18, y); g.stroke();
          g.fillStyle = fc; g.beginPath();
          if (sh === 'rect') g.rect(x0 + 5, y - 4, 8, 8); else g.arc(x0 + 9, y, 3.8, 0, Math.PI * 2);
          g.fill();
          g.fillStyle = '#222'; g.textAlign = 'left'; g.font = "12px 'Liberation Sans', Arial, sans-serif";
          g.fillText(txt, x0 + 23, y + 0.5);
        });
      }
    })]
  });
})();

// --- panels b and c ---
function positionPanel(id, area, wy, pad, cats, lists, mean, hi, lo, caption, zeroDash, frameCol) {
  const { cv, padding } = place(id, area, wy, 48, pad);
  const pts = lists.flatMap((list, i) => list.map(p => ({ x: i + p[0], y: p[1], c: p[2], s: p[3] })));
  new Chart(cv, {
    type: 'scatter',
    data: { datasets: [marks(pts)] },
    options: {
      responsive: false, layout: { padding },
      scales: {
        x: axis({ min: -0.5, max: 11.5, ticks: cats.map((c, i) => i), fit: 48, font: 11.5, rot: 45, pad: 1, tl: 5,
                  title: 'Position in Codon, Base', tsize: 13, label: v => cats[v] }),
        y: axis({ min: -45, max: 25, ticks: bcYTicks, fit: wy, font: 12.5, title: 'Codon Influence', tsize: 13.5, label: yLab10 })
      }
    },
    plugins: [deco({
      zero: { color: '#111', width: 1.2, dash: zeroDash },
      vlines: [3.5, 7.5],
      means: { m: mean, hi, lo },
      frame: { color: frameCol, width: 1.5 },
      texts: [{ text: caption, x: 5.5, y: -38.3, font: "12.5px 'Liberation Sans', Arial, sans-serif", color: '#333' }]
    })]
  });
}
positionPanel('cB', [42, 227, 370, 420], 42, { top: 6, right: 6 }, bCats,
  [b1G, b1C, b1U, b1A, b2G, b2C, b2U, b2A, b3G, b3C, b3U, b3A], bMean, bHi, bLo,
  'single variable logistic regression', [4, 3], '#555');
positionPanel('cC', [470, 228, 797, 420], 45, { top: 6, right: 3 }, cCats,
  [c1G, c1C, c1U, c1A, c2G, c2C, c2U, c2A, c3G, c3C, c3U, c3A], cMean, cHi, cLo,
  'multiple logistic regression', [2, 2], '#333');

// --- panels d-h ---
function scatterPanel(id, area, wy, hx, pad, xo, pts, lines, yTitle) {
  const { cv, padding } = place(id, area, wy, hx, pad);
  const data = pts.map(p => ({ x: p[0], y: p[1], c: p[3], s: p[4] }));
  new Chart(cv, {
    type: 'scatter',
    data: { datasets: [...lines, marks(data)] },
    options: {
      responsive: false, layout: { padding },
      scales: {
        x: axis(Object.assign({ fit: hx, font: 12, pad: 1, tl: 4 }, xo)),
        y: axis({ min: -45, max: 25, ticks: bcYTicks, fit: wy, font: 12, title: yTitle, tsize: 12.5, label: yLab10 })
      }
    },
    plugins: [deco({
      zero: { color: '#bbb', width: 2.5 },
      errs: [{ color: '#555', width: 1, cap: 4, items: pts.map(p => [p[0], p[1] - p[2], p[1] + p[2]]) }],
      frame: { color: '#111', width: 2 }
    })]
  });
}

scatterPanel('cD', [45, 537, 208, 728], 43, 20, null,
  { min: 0, max: 3.5, ticks: [0, 0.5, 1, 1.5, 2, 2.5, 3, 3.5], label: v => (Number.isInteger(v) ? String(v) : '') },
  dPts, [line(dLineX, dFit, 2), line(dLineX, dBandA, 1.4), line(dLineX, dBandB, 1.4)], 'Codon Influence');

scatterPanel('cE', [331, 537, 493, 728], 43, 20, null,
  { min: -3, max: 0, ticks: [-3, -2.5, -2, -1.5, -1, -0.5, 0], label: v => (Number.isInteger(v) ? String(v) : '') },
  ePts, [line(eLineX, eFit, 2), line(eLineX, eBandA, 1.4), line(eLineX, eBandB, 1.4)], 'Codon Influence');

scatterPanel('cF', [623, 537, 786, 728], 43, 20, { right: 12 },
  { min: 0, max: 40, ticks: [0, 5, 10, 15, 20, 25, 30, 35, 40], label: v => (v % 10 === 0 ? String(v) : '') },
  fPts, [line(fLineX, fFit, 2), line(fBandX, fBandA, 1.4), line(fBandX, fBandB, 1.4)], 'Codon Influence');

scatterPanel('cG', [45, 788, 208, 978], 43, 20, null,
  { min: 0, max: 1.1, ticks: [0, 0.25, 0.5, 0.75, 1.0], label: v => (Math.round(v * 100) % 50 === 0 ? v.toFixed(1) : '') },
  gPts, [line(gLineX, gFit, 2), line(gLineX, gBandA, 1.4), line(gLineX, gBandB, 1.4)], 'Codon Inf uence');

scatterPanel('cH', [332, 788, 494, 978], 44, 20, null,
  { min: 0, max: 3.5, ticks: [0, 0.5, 1, 1.5, 2, 2.5, 3, 3.5], label: v => (Number.isInteger(v) ? String(v) : '') },
  hPts, [line(hLineX, hFit, 2), line(hBandX, hBandA, 1.3, [9, 4]), line(hBandX, hBandB, 1.3, [9, 4])], 'Codon Inf uence');
</script>
</body>
</html>
